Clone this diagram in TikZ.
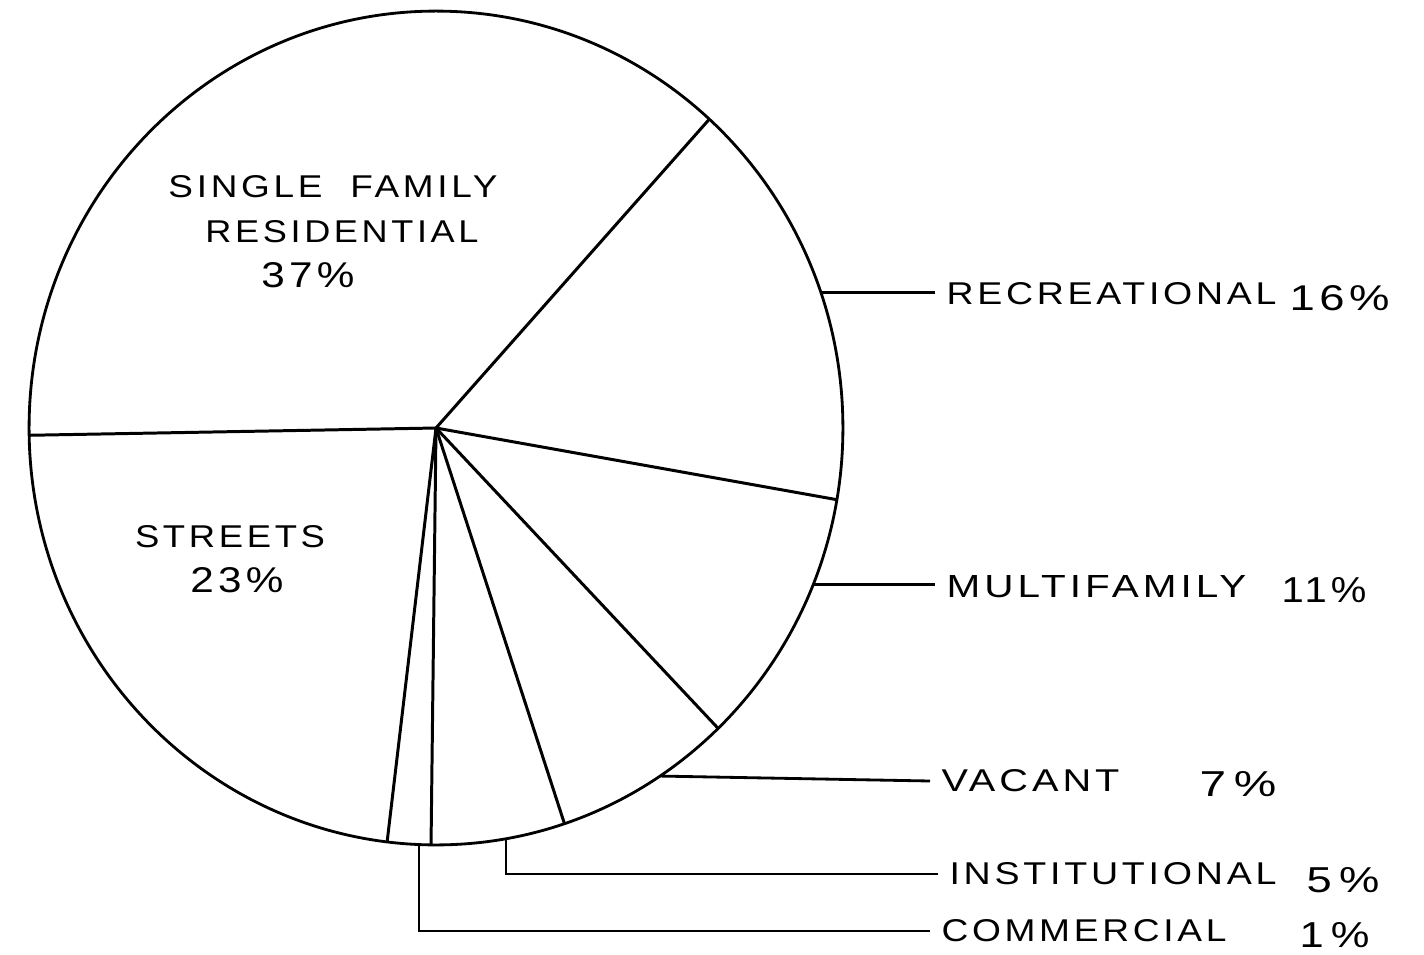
\documentclass[tikz,border=0pt]{standalone}
\usepackage{fontspec}
\usepackage{graphicx}
\newfontfamily\labfont[LetterSpace=10]{Liberation Sans}
\newdimen\pxu \pxu=0.02cm
\newcommand\lbl[2]{\resizebox{#1\pxu}{22\pxu}{\labfont #2}}
\newcommand\pcl[2]{\resizebox{#1\pxu}{25\pxu}{\labfont #2}}
\begin{document}
\begin{tikzpicture}[x=0.02cm,y=-0.02cm,line width=1.7pt,
  txt/.style={inner sep=0pt},
  side/.style={inner ysep=0pt,inner xsep=10\pxu,anchor=west},
  pct/.style={inner sep=0pt,anchor=west},
  leader/.style={line width=1.6pt}]
\useasboundingbox (0,0) rectangle (1424,954);
\coordinate (C) at (436,428);
\draw[line width=1.6pt] (C) ellipse [x radius=8.14cm, y radius=8.34cm];
% spokes
\foreach \n/\a in {s1/47.8,s2/-9.9,s3/-46.1,s4/-71.6,s5/-90.7,s6/-96.9,s7/-179}
  \coordinate (\n) at ([shift={(C)}]\a:8.14cm and 8.34cm);
\foreach \n in {s1,s2,s3,s4,s5,s6,s7}
  \draw (C) -- (\n);
% inside labels
\node[txt] (sf1) at (333,187) {\lbl{329}{SINGLE\ \ FAMILY}};
\node[txt] (sf2) at (342,232) {\lbl{273}{RESIDENTIAL}};
\node[txt] (sf3) at (308,275) {\pcl{93}{37\%}};
\node[txt] (st1) at (230,537) {\lbl{190}{STREETS}};
\node[txt] (st2) at (237,580) {\pcl{93}{23\%}};
% attachment points on the rim
\coordinate (a-rec) at ([shift={(C)}]19.0:8.14cm and 8.34cm);
\coordinate (a-mul) at ([shift={(C)}]-22.1:8.14cm and 8.34cm);
\coordinate (a-vac) at ([shift={(C)}]-56.6:8.14cm and 8.34cm);
\coordinate (a-ins) at ([shift={(C)}]-80.1:8.14cm and 8.34cm);
\coordinate (a-com) at ([shift={(C)}]-92.4:8.14cm and 8.34cm);
% side labels
\node[side] (rec) at (935,294) {\lbl{330}{RECREATIONAL}};
\node[pct] (rec-p) at (1288,298) {\pcl{100}{16\%}};
\node[side] (mul) at (935,587) {\lbl{300}{MULTIFAMILY}};
\node[pct] (mul-p) at (1280,590) {\pcl{85}{11\%}};
\node[side] (vac) at (930,781) {\lbl{178}{VACANT}};
\node[pct] (vac-p) at (1198,784) {\pcl{77}{7\,\%}};
\node[side] (ins) at (938,874) {\lbl{327}{INSTITUTIONAL}};
\node[pct] (ins-p) at (1305,880) {\pcl{73}{5\,\%}};
\node[side] (com) at (930,931) {\lbl{285}{COMMERCIAL}};
\node[pct] (com-p) at (1298,935) {\pcl{70}{1\,\%}};
% leaders
\draw[leader] (a-rec) -- (a-rec -| rec.west);
\draw[leader] (a-mul) -- (a-mul -| mul.west);
\draw[leader] (a-vac) -- (vac.west);
\draw[leader] (a-ins) |- (ins.west);
\draw[leader] (a-com) |- (com.west);
\end{tikzpicture}
\end{document}
